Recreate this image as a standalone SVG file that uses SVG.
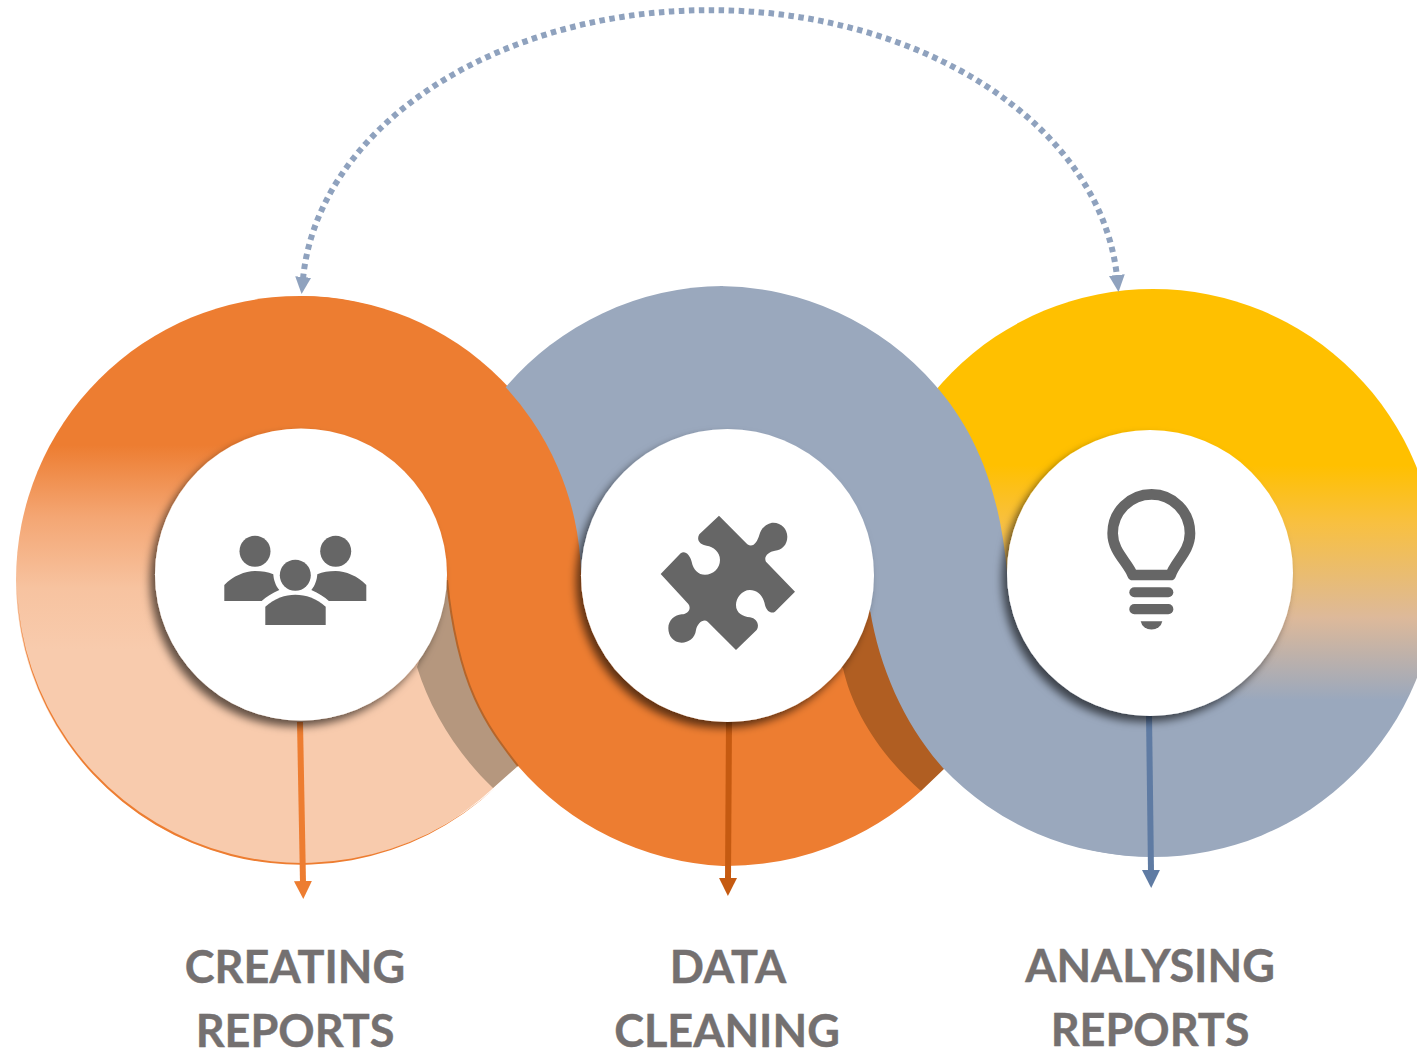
<svg xmlns="http://www.w3.org/2000/svg" width="1417" height="1051" viewBox="0 0 1417 1051">
<style>
.hub{fill:#fff;filter:url(#sh)}
.ic{fill:#666}
.lb{font-family:"Lato","Liberation Sans",sans-serif;font-weight:700;font-size:45px;fill:#747070;stroke:#747070;stroke-width:.4;text-anchor:middle}
.lead{fill:none;stroke-width:6}
</style>
<defs>
<linearGradient id="g1" gradientUnits="userSpaceOnUse" x1="0" y1="445" x2="0" y2="650">
<stop offset="0" stop-color="#ED7D31"/><stop offset=".35" stop-color="#F4A673"/><stop offset=".7" stop-color="#F7C3A0"/><stop offset="1" stop-color="#F8CBAD"/>
</linearGradient>
<linearGradient id="g3" gradientUnits="userSpaceOnUse" x1="0" y1="465" x2="0" y2="700">
<stop offset="0" stop-color="#FFC000"/><stop offset=".25" stop-color="#F8C041"/><stop offset=".65" stop-color="#DDB99A"/><stop offset="1" stop-color="#9AA8BD"/>
</linearGradient>
<filter id="sh" x="-20%" y="-20%" width="140%" height="140%">
<feDropShadow dx="-5" dy="6" stdDeviation="4.5" flood-color="#000" flood-opacity=".6"/>
</filter>
<marker id="mD" markerUnits="userSpaceOnUse" markerWidth="18" markerHeight="18" refX="2" refY="8" orient="auto-start-reverse"><path d="M0 0L17 8L0 16Z" fill="#8FA2BE"/></marker>
<marker id="m1" markerUnits="userSpaceOnUse" markerWidth="20" markerHeight="20" refX="2" refY="9" orient="auto"><path d="M0 0L18 9L0 18Z" fill="#ED7D31"/></marker>
<marker id="m2" markerUnits="userSpaceOnUse" markerWidth="20" markerHeight="20" refX="2" refY="9" orient="auto"><path d="M0 0L18 9L0 18Z" fill="#C55A11"/></marker>
<marker id="m3" markerUnits="userSpaceOnUse" markerWidth="20" markerHeight="20" refX="2" refY="9" orient="auto"><path d="M0 0L18 9L0 18Z" fill="#5F7BA3"/></marker>
</defs>

<g id="ribbons">
<circle cx="300" cy="580" r="284" fill="url(#g1)"/>
<path d="M17 590A284 284 0 0 0 495 788A285.5 285.5 0 0 1 17 590Z" fill="#ED7D31"/>
<path d="M417 667C430 710 458 755 493 788L518 766C488 727 458 690 447 580Z" fill="#B5977E"/>
<circle cx="1153" cy="573" r="284" fill="url(#g3)"/>
<path d="M505 388A288 288 0 0 1 723 286L727 575H505Z" fill="#9AA8BD"/>
<path d="M300 296A284 284 0 0 1 581 573L727 575L846 664L921 791A290 290 0 0 1 723 866A290 290 0 0 1 518 766C488 727 458 690 447 580L300 500Z" fill="#ED7D31"/>
<path d="M518 766C488 727 458 690 447 580" fill="none" stroke="#B5652A" stroke-width="2"/>
<path d="M870 610L727 575L843 668C852 710 880 755 921 791L945 768Z" fill="#B05E22"/>
<path d="M720 286A288 288 0 0 1 935 385C975 430 1000 490 1007 572L1150 600V856.5A284 284 0 0 1 943 768C905 725 880 670 870 610L720 575Z" fill="#9AA8BD"/>
</g>

<g id="connectors">
<path d="M303 279A408 288 0 0 1 1117 277" fill="none" stroke="#8FA2BE" stroke-width="6" stroke-dasharray="5.5 4.5" marker-start="url(#mD)" marker-end="url(#mD)"/>
<path class="lead" d="M300 722L303 883" stroke="#ED7D31" marker-end="url(#m1)"/>
<path class="lead" d="M729 720L728 880" stroke="#C55A11" marker-end="url(#m2)"/>
<path class="lead" d="M1149 714L1151 872" stroke="#5F7BA3" marker-end="url(#m3)"/>
</g>

<g id="node-creating">
<circle class="hub" cx="301" cy="574.5" r="146"/>
<g class="ic">
<circle cx="255" cy="551.3" r="15.5"/>
<circle cx="335.7" cy="551.3" r="15.5"/>
<circle cx="295.3" cy="575.3" r="15.5"/>
<path d="M265.3 625V606.7C275 598 285 594.7 295.3 594.7C306 594.7 316 598 325.7 606.7V625Z"/>
<path d="M224.3 601V585C233 576 245 571 255 571C262 571 268 572 273.3 574.3C273.5 579 275.5 586 279.3 590C272 593 266 597 261.7 601Z"/>
<path d="M366.3 601V585C357.6 576 345.6 571 335.6 571C328.6 571 322.6 572 317.3 574.3C317.1 579 315.1 586 311.3 590C318.6 593 324.6 597 328.9 601Z"/>
</g>
<text class="lb" x="295" y="983">CREATING</text>
<text class="lb" x="295" y="1047">REPORTS</text>
</g>

<g id="node-cleaning">
<circle class="hub" cx="727.5" cy="575.5" r="146.5"/>
<path class="ic" transform="translate(640 500) scale(.3333)" d="M237 47L322 133C340 145 352 125 358 105C365 80 385 68 400 68C425 68 442 88 442 110C442 135 425 150 405 152C385 155 370 170 378 185L465 275L405 335C395 342 380 335 375 315C370 285 350 270 330 270C305 270 288 295 288 315C288 340 310 350 330 352C350 355 360 375 350 390L288 450L203 365C190 355 172 370 168 390C165 415 145 428 125 428C100 428 85 408 85 385C85 360 105 345 125 343C145 342 155 325 145 312L62 222L122 160C135 150 150 165 155 185C160 210 175 224 195 224C220 224 240 205 240 180C240 155 220 140 200 137C180 135 168 120 178 103Z"/>
<text class="lb" x="728" y="983">DATA</text>
<text class="lb" x="727" y="1047">CLEANING</text>
</g>

<g id="node-analysing">
<circle class="hub" cx="1150" cy="573" r="143"/>
<g transform="translate(1090 480) scale(.3333)">
<path d="M128 285H242C255 245 300 215 300 160C300 95 248 43 185 43C120 43 68 95 68 160C68 215 112 245 128 285Z" fill="none" stroke="#666" stroke-width="32" stroke-linejoin="round"/>
<rect class="ic" x="118" y="322" width="132" height="30" rx="15"/>
<rect class="ic" x="118" y="372" width="132" height="31" rx="15"/>
<path class="ic" d="M152 424H217A33 30 0 0 1 152 424Z"/>
</g>
<text class="lb" x="1150" y="982">ANALYSING</text>
<text class="lb" x="1150" y="1046">REPORTS</text>
</g>
</svg>
